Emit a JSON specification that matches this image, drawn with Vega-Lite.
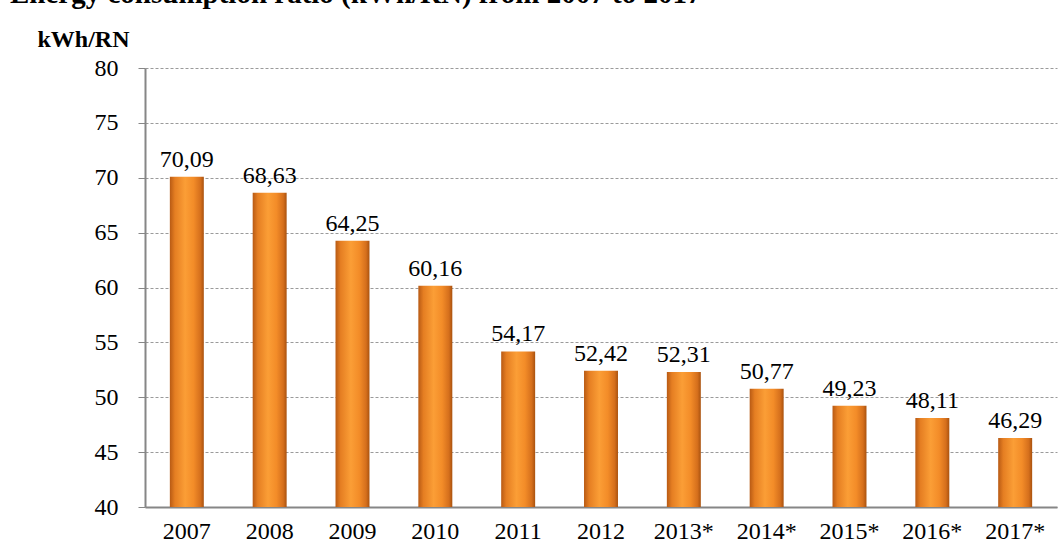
{
  "$schema": "https://vega.github.io/schema/vega-lite/v6.json",
  "autosize": {"type": "none"},
  "padding": {"left": 145, "top": 68, "right": 2, "bottom": 33},
  "width": 912,
  "height": 439,
  "background": "white",
  "config": {
    "view": {"stroke": null},
    "font": "Liberation Serif",
    "locale": {"number": {"decimal": ",", "thousands": ".", "grouping": [3], "currency": ["", " €"]}}
  },
  "title": {
    "text": "Energy consumption ratio (kWh/RN) from 2007 to 2017",
    "anchor": "start",
    "frame": "group",
    "font": "Liberation Serif",
    "fontSize": 29,
    "fontWeight": "bold",
    "color": "black",
    "baseline": "alphabetic",
    "dx": -135,
    "dy": 5,
    "offset": 0
  },
  "data": {
    "values": [
      {"year": "2007", "value": 70.09},
      {"year": "2008", "value": 68.63},
      {"year": "2009", "value": 64.25},
      {"year": "2010", "value": 60.16},
      {"year": "2011", "value": 54.17},
      {"year": "2012", "value": 52.42},
      {"year": "2013*", "value": 52.31},
      {"year": "2014*", "value": 50.77},
      {"year": "2015*", "value": 49.23},
      {"year": "2016*", "value": 48.11},
      {"year": "2017*", "value": 46.29}
    ]
  },
  "encoding": {
    "x": {
      "field": "year",
      "type": "nominal",
      "sort": null,
      "scale": {"paddingInner": 0.59, "paddingOuter": 0.3},
      "axis": {
        "title": null,
        "labelAngle": 0,
        "labelFont": "Liberation Serif",
        "labelFontSize": 24,
        "labelColor": "black",
        "labelPadding": 12,
        "ticks": false,
        "domainColor": "#868686",
        "domainWidth": 2,
        "grid": false
      }
    },
    "y": {
      "field": "value",
      "type": "quantitative",
      "scale": {"domain": [40, 80], "zero": false, "nice": false},
      "axis": {
        "values": [40, 45, 50, 55, 60, 65, 70, 75, 80],
        "format": "d",
        "title": "kWh/RN",
        "titleAngle": 0,
        "titleFont": "Liberation Serif",
        "titleFontSize": 24,
        "titleFontWeight": "bold",
        "titleColor": "black",
        "titleAlign": "center",
        "titleBaseline": "alphabetic",
        "titleX": -62,
        "titleY": -22,
        "labelFont": "Liberation Serif",
        "labelFontSize": 24,
        "labelColor": "black",
        "labelPadding": 20,
        "tickSize": 7,
        "tickColor": "#868686",
        "tickWidth": 1,
        "domainColor": "#868686",
        "domainWidth": 2,
        "grid": true,
        "gridColor": "#9a9a9a",
        "gridDash": [3, 2],
        "gridWidth": 1
      }
    }
  },
  "layer": [
    {
      "mark": {
        "type": "bar",
        "color": {
          "gradient": "linear",
          "x1": 0, "x2": 1, "y1": 0, "y2": 0,
          "stops": [
            {"offset": 0, "color": "#B85A14"},
            {"offset": 0.15, "color": "#E57E22"},
            {"offset": 0.45, "color": "#FB9E36"},
            {"offset": 0.7, "color": "#F38C28"},
            {"offset": 0.9, "color": "#D56F1C"},
            {"offset": 1, "color": "#A9520F"}
          ]
        }
      },
      "encoding": {"y2": {"datum": 40}}
    },
    {
      "mark": {"type": "text", "baseline": "alphabetic", "dy": -10, "fontSize": 24, "font": "Liberation Serif", "color": "black"},
      "encoding": {"text": {"field": "value", "type": "quantitative", "format": ".2f"}}
    }
  ]
}
